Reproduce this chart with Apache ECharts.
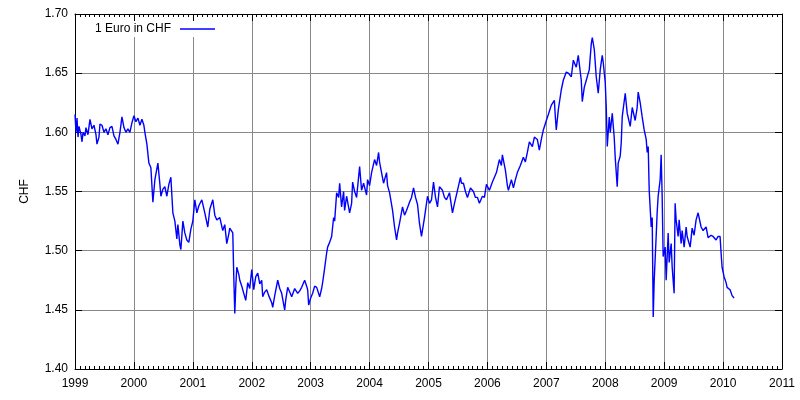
<!DOCTYPE html>
<html>
<head>
<meta charset="utf-8">
<script src="https://cdn.jsdelivr.net/npm/echarts@6/dist/echarts.min.js"></script>
<style>
  html, body { margin: 0; padding: 0; background: #fff; }
  #chart { width: 800px; height: 400px; }
</style>
</head>
<body>
<div id="chart"></div>
<script>
// decimal year of each reading
var years = [
  1999.000, 1999.017, 1999.034, 1999.051, 1999.068, 1999.102, 1999.119, 1999.136, 1999.169, 1999.186,
  1999.220, 1999.254, 1999.288, 1999.322, 1999.356, 1999.373, 1999.407, 1999.424, 1999.458, 1999.492,
  1999.525, 1999.559, 1999.593, 1999.627, 1999.661, 1999.695, 1999.729, 1999.763, 1999.797, 1999.831,
  1999.864, 1999.898, 1999.932, 1999.966, 2000.000, 2000.034, 2000.068, 2000.102, 2000.136, 2000.169,
  2000.186, 2000.220, 2000.254, 2000.288, 2000.322, 2000.356, 2000.407, 2000.441, 2000.458, 2000.492,
  2000.525, 2000.559, 2000.593, 2000.627, 2000.661, 2000.695, 2000.729, 2000.746, 2000.780, 2000.797,
  2000.831, 2000.864, 2000.898, 2000.932, 2000.966, 2001.000, 2001.034, 2001.068, 2001.102, 2001.153,
  2001.203, 2001.254, 2001.288, 2001.339, 2001.373, 2001.407, 2001.458, 2001.508, 2001.542, 2001.576,
  2001.610, 2001.627, 2001.678, 2001.695, 2001.712, 2001.729, 2001.746, 2001.780, 2001.797, 2001.831,
  2001.847, 2001.898, 2001.932, 2001.966, 2002.000, 2002.034, 2002.068, 2002.102, 2002.136, 2002.169,
  2002.186, 2002.220, 2002.254, 2002.288, 2002.339, 2002.356, 2002.390, 2002.441, 2002.475, 2002.508,
  2002.559, 2002.576, 2002.610, 2002.644, 2002.678, 2002.729, 2002.780, 2002.814, 2002.847, 2002.898,
  2002.932, 2002.949, 2002.966, 2003.000, 2003.034, 2003.068, 2003.102, 2003.153, 2003.186, 2003.203,
  2003.237, 2003.271, 2003.288, 2003.322, 2003.356, 2003.390, 2003.407, 2003.441, 2003.475, 2003.492,
  2003.525, 2003.559, 2003.576, 2003.610, 2003.627, 2003.661, 2003.695, 2003.712, 2003.746, 2003.780,
  2003.831, 2003.864, 2003.898, 2003.949, 2003.966, 2004.000, 2004.034, 2004.085, 2004.119, 2004.153,
  2004.169, 2004.203, 2004.237, 2004.288, 2004.305, 2004.339, 2004.390, 2004.424, 2004.458, 2004.475,
  2004.508, 2004.559, 2004.593, 2004.627, 2004.678, 2004.712, 2004.746, 2004.780, 2004.814, 2004.847,
  2004.881, 2004.932, 2004.983, 2005.017, 2005.051, 2005.085, 2005.119, 2005.153, 2005.186, 2005.237,
  2005.271, 2005.305, 2005.356, 2005.407, 2005.441, 2005.492, 2005.542, 2005.559, 2005.593, 2005.627,
  2005.661, 2005.712, 2005.763, 2005.797, 2005.831, 2005.864, 2005.915, 2005.949, 2005.983, 2006.034,
  2006.085, 2006.119, 2006.153, 2006.203, 2006.237, 2006.254, 2006.305, 2006.339, 2006.356, 2006.407,
  2006.441, 2006.475, 2006.508, 2006.559, 2006.610, 2006.644, 2006.678, 2006.712, 2006.763, 2006.797,
  2006.847, 2006.881, 2006.915, 2006.949, 2007.000, 2007.034, 2007.085, 2007.136, 2007.153, 2007.169,
  2007.203, 2007.254, 2007.288, 2007.339, 2007.373, 2007.424, 2007.458, 2007.508, 2007.542, 2007.593,
  2007.610, 2007.644, 2007.678, 2007.729, 2007.763, 2007.780, 2007.814, 2007.847, 2007.881, 2007.915,
  2007.949, 2007.966, 2008.000, 2008.017, 2008.034, 2008.068, 2008.085, 2008.119, 2008.153, 2008.169,
  2008.203, 2008.220, 2008.254, 2008.271, 2008.288, 2008.339, 2008.373, 2008.424, 2008.458, 2008.508,
  2008.542, 2008.559, 2008.593, 2008.627, 2008.661, 2008.695, 2008.712, 2008.729, 2008.746, 2008.780,
  2008.797, 2008.814, 2008.831, 2008.864, 2008.881, 2008.898, 2008.932, 2008.949, 2008.966, 2008.983,
  2009.017, 2009.034, 2009.068, 2009.085, 2009.119, 2009.136, 2009.169, 2009.186, 2009.203, 2009.237,
  2009.254, 2009.288, 2009.305, 2009.339, 2009.373, 2009.390, 2009.441, 2009.475, 2009.508, 2009.542,
  2009.576, 2009.593, 2009.627, 2009.661, 2009.712, 2009.746, 2009.797, 2009.831, 2009.881, 2009.915,
  2009.949, 2009.966, 2009.983, 2010.017, 2010.051, 2010.068, 2010.119, 2010.153, 2010.186
];

// 1 Euro in CHF
var chf = [
  1.615, 1.600, 1.612, 1.596, 1.605, 1.598, 1.592, 1.600, 1.597, 1.604,
  1.598, 1.611, 1.603, 1.606, 1.598, 1.590, 1.596, 1.607, 1.606, 1.600,
  1.603, 1.598, 1.604, 1.605, 1.597, 1.594, 1.590, 1.600, 1.613, 1.604,
  1.600, 1.603, 1.600, 1.608, 1.614, 1.609, 1.612, 1.606, 1.611, 1.606,
  1.600, 1.590, 1.574, 1.570, 1.541, 1.560, 1.574, 1.556, 1.546, 1.552,
  1.554, 1.546, 1.556, 1.562, 1.532, 1.525, 1.510, 1.522, 1.505, 1.501,
  1.525, 1.515, 1.509, 1.507, 1.518, 1.525, 1.543, 1.532, 1.538, 1.543,
  1.532, 1.520, 1.535, 1.543, 1.530, 1.526, 1.528, 1.517, 1.522, 1.506,
  1.514, 1.519, 1.515, 1.478, 1.447, 1.470, 1.486, 1.480, 1.475, 1.470,
  1.467, 1.458, 1.473, 1.468, 1.484, 1.467, 1.478, 1.481, 1.472, 1.475,
  1.461, 1.465, 1.467, 1.462, 1.456, 1.452, 1.462, 1.475, 1.468, 1.464,
  1.450, 1.458, 1.469, 1.465, 1.461, 1.468, 1.464, 1.466, 1.469, 1.475,
  1.470, 1.467, 1.454, 1.460, 1.464, 1.470, 1.469, 1.461, 1.468, 1.473,
  1.485, 1.498, 1.503, 1.507, 1.512, 1.528, 1.525, 1.549, 1.545, 1.557,
  1.537, 1.550, 1.534, 1.546, 1.547, 1.532, 1.540, 1.558, 1.550, 1.545,
  1.571, 1.551, 1.557, 1.547, 1.560, 1.555, 1.566, 1.577, 1.572, 1.583,
  1.575, 1.566, 1.557, 1.566, 1.555, 1.549, 1.534, 1.520, 1.509, 1.515,
  1.523, 1.537, 1.530, 1.534, 1.541, 1.545, 1.553, 1.545, 1.539, 1.523,
  1.512, 1.528, 1.546, 1.540, 1.543, 1.558, 1.545, 1.537, 1.554, 1.551,
  1.545, 1.543, 1.549, 1.532, 1.540, 1.551, 1.562, 1.557, 1.557, 1.550,
  1.545, 1.553, 1.550, 1.545, 1.545, 1.540, 1.546, 1.545, 1.556, 1.551,
  1.558, 1.562, 1.566, 1.577, 1.572, 1.581, 1.568, 1.555, 1.551, 1.560,
  1.553, 1.560, 1.566, 1.572, 1.579, 1.575, 1.583, 1.592, 1.588, 1.596,
  1.594, 1.585, 1.594, 1.602, 1.610, 1.615, 1.623, 1.627, 1.613, 1.602,
  1.619, 1.636, 1.644, 1.651, 1.650, 1.647, 1.661, 1.655, 1.665, 1.644,
  1.626, 1.638, 1.644, 1.653, 1.675, 1.680, 1.670, 1.647, 1.633, 1.653,
  1.665, 1.659, 1.642, 1.621, 1.588, 1.613, 1.600, 1.616, 1.595, 1.579,
  1.554, 1.574, 1.580, 1.591, 1.613, 1.633, 1.616, 1.605, 1.621, 1.610,
  1.621, 1.634, 1.625, 1.613, 1.602, 1.594, 1.583, 1.588, 1.551, 1.520,
  1.528, 1.444, 1.475, 1.512, 1.532, 1.546, 1.560, 1.581, 1.546, 1.495,
  1.503, 1.475, 1.515, 1.490, 1.506, 1.486, 1.464, 1.540, 1.526, 1.512,
  1.526, 1.506, 1.517, 1.503, 1.520, 1.512, 1.503, 1.519, 1.513, 1.526,
  1.532, 1.533, 1.520, 1.517, 1.520, 1.511, 1.513, 1.512, 1.509, 1.512,
  1.512, 1.498, 1.486, 1.478, 1.473, 1.469, 1.467, 1.462, 1.460
];

var seriesName = '1 Euro in CHF';
var yName = 'CHF';

var font = 'Liberation Sans';
var points = years.map(function (y, i) { return [y, chf[i]]; });

var myChart = echarts.init(document.getElementById('chart'));

var xBase = {
    type: 'value',
    min: 1999,
    max: 2011,
    interval: 1,
    axisLine: { show: true, onZero: false, lineStyle: { color: '#000', width: 1 } },
    axisTick: { show: true, inside: true, length: 7, lineStyle: { color: '#000' } },
    minorTick: { show: true, splitNumber: 12, length: 3, lineStyle: { color: '#000' } }
};

myChart.setOption({
    animation: false,
    textStyle: { fontFamily: font },
    grid: { left: 75, right: 18, top: 14, bottom: 31 },
    legend: {
        data: [seriesName],
        left: 89,
        top: 21,
        align: 'right',
        padding: [2, 6, 2, 6],
        backgroundColor: '#fff',
        itemWidth: 35,
        itemHeight: 12,
        icon: 'path://M0,6 L35,6 L35,7.4 L0,7.4 Z',
        textStyle: { fontFamily: font, fontSize: 12, color: '#000', padding: [0, 4, 0, 0] }
    },
    xAxis: [
        Object.assign({}, xBase, {
            position: 'bottom',
            axisLabel: {
                color: '#000', fontSize: 12, margin: 9,
                formatter: function (v) { return String(v); }
            },
            splitLine: { show: true, lineStyle: { color: '#888', width: 1 } }
        }),
        Object.assign({}, xBase, {
            position: 'top',
            axisLabel: { show: false },
            splitLine: { show: false }
        })
    ],
    yAxis: [
        {
            type: 'value',
            min: 1.4,
            max: 1.7,
            interval: 0.05,
            position: 'left',
            name: yName,
            nameLocation: 'middle',
            nameGap: 44,
            nameTextStyle: { color: '#000', fontSize: 12, fontFamily: font },
            axisLine: { show: true, lineStyle: { color: '#000', width: 1 } },
            axisTick: { show: true, inside: true, length: 7, lineStyle: { color: '#000' } },
            axisLabel: {
                color: '#000', fontSize: 12, margin: 7,
                formatter: function (v) { return v.toFixed(2); }
            },
            splitLine: { show: true, lineStyle: { color: '#888', width: 1 } }
        },
        {
            type: 'value',
            min: 1.4,
            max: 1.7,
            interval: 0.05,
            position: 'right',
            axisLine: { show: true, lineStyle: { color: '#000', width: 1 } },
            axisTick: { show: true, inside: true, length: 7, lineStyle: { color: '#000' } },
            axisLabel: { show: false },
            splitLine: { show: false }
        }
    ],
    series: [{
        name: seriesName,
        type: 'line',
        xAxisIndex: 0,
        yAxisIndex: 0,
        data: points,
        symbol: 'none',
        smooth: false,
        color: '#0000ff',
        lineStyle: { color: '#0000ff', width: 1.4 }
    }]
});
</script>
</body>
</html>
